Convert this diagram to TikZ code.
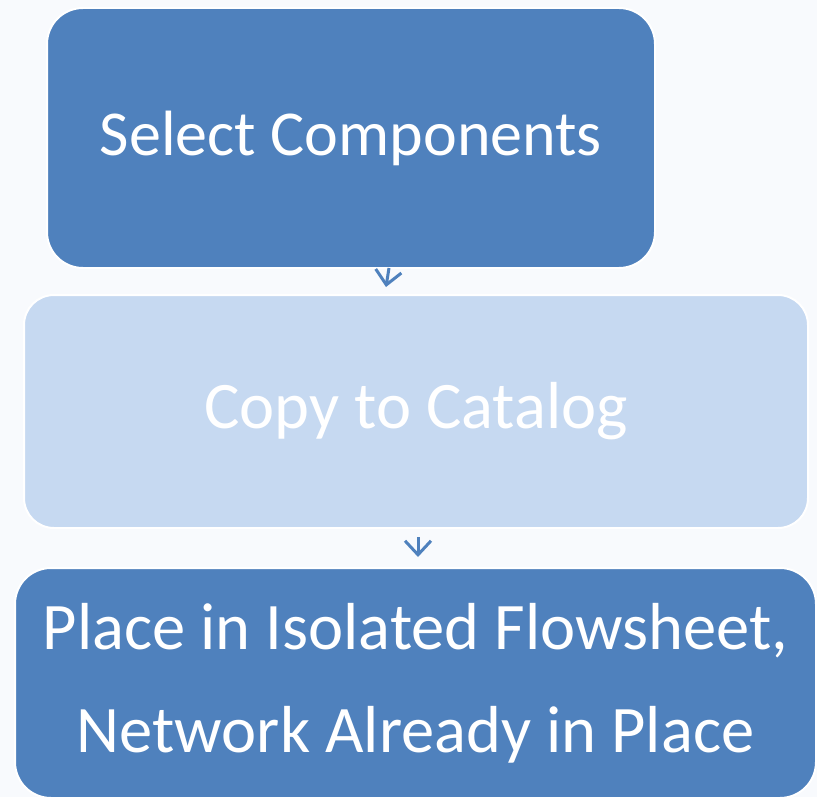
\documentclass[tikz,border=0pt]{standalone}
\usepackage{fontspec}
\setmainfont{Carlito}
\usetikzlibrary{arrows.meta}
\definecolor{darkbox}{HTML}{4F81BD}
\definecolor{lightbox}{HTML}{C6D9F1}
\definecolor{paper}{HTML}{F8FAFD}
\tikzset {>={Straight Barb[length=14pt,width=26pt]}}
\tikzset{
  stepbox/.style={draw=white,line width=2pt,rounded corners=36pt,
    text=white,align=center,inner sep=0pt,
    font=\fontsize{64}{100}\selectfont},
  bigtext/.style={font=\fontsize{66.5}{103}\selectfont},
  link/.style={->,darkbox,line width=3pt}
}

\begin{document}
\begin{tikzpicture}[x=1pt,y=-1pt]
\fill[paper] (0,0) rectangle (817,797);
\useasboundingbox (0,0) rectangle (817,797);
\node[stepbox,fill=darkbox,minimum width=608pt,minimum height=260pt] (select) at (351,138) {Select Components};
\node[stepbox,bigtext,fill=lightbox,minimum width=784pt,minimum height=233pt,rounded corners=30pt] (copy) at (416,411.5) {Copy to Catalog};
\node[stepbox,bigtext,fill=darkbox,minimum width=801pt,minimum height=230pt] (place) at (415.5,683) {Place in Isolated Flowsheet,\\Network Already in Place};
\coordinate (a1) at (389,268);
\coordinate (b1) at (386,287);
\coordinate (a2) at (418,537);
\coordinate (b2) at (418,557);
\draw[link] (a1) -- (b1);
\draw[link] (a2) -- (b2);
\end{tikzpicture}
\end{document}
